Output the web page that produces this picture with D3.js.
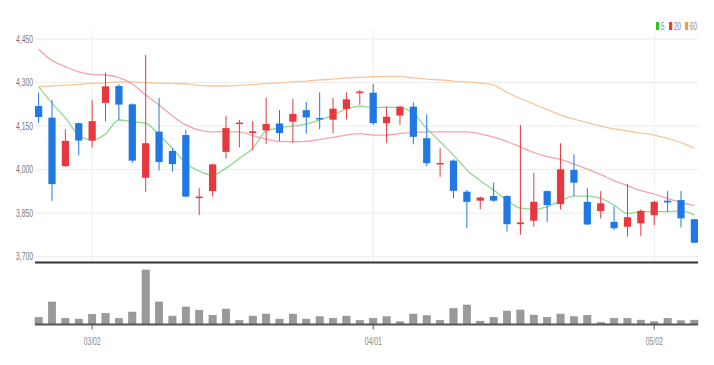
<!DOCTYPE html>
<html>
<head>
<meta charset="utf-8">
<script src="https://cdn.jsdelivr.net/npm/d3@7"></script>
<style>
  html, body { margin: 0; padding: 0; background: #fff; }
  svg { display: block; font-family: "Liberation Sans Narrow", "Liberation Sans", Arial, sans-serif; }
</style>
</head>
<body>
<svg id="chart" width="714" height="365"></svg>
<script>
// trading days (Feb 23 – May 6)
const dates = [
  "02/23","02/24","02/25","02/28",
  "03/02","03/03","03/04","03/07","03/08","03/10","03/11","03/14","03/15","03/16","03/17","03/18",
  "03/21","03/22","03/23","03/24","03/25","03/28","03/29","03/30","03/31",
  "04/01","04/04","04/05","04/06","04/07","04/08","04/11","04/12","04/13","04/14","04/15",
  "04/18","04/19","04/20","04/21","04/22","04/25","04/26","04/27","04/28","04/29",
  "05/02","05/03","05/04","05/06"
];
const tickDates = ["03/02", "04/01", "05/02"];
const priceTicks = [3700, 3850, 4000, 4150, 4300, 4450];

const opens  = [4219,4179,4012,4160,4100,4230,4288,4225,3972,4131,4064,4119,3904,3926,4061,4157,4126,4135,4159,4165,
                4205,4178,4172,4209,4265,4265,4160,4186,4217,4108,4020,4031,3924,3893,3909,3909,3812,3824,3926,3881,
                3999,3889,3857,3820,3803,3815,3843,3893,3895,3829];
const highs  = [4265,4240,4139,4162,4239,4334,4294,4228,4395,4247,4073,4138,3936,4020,4185,4171,4167,4248,4205,4244,
                4233,4266,4247,4266,4274,4295,4217,4219,4232,4190,4073,4035,3930,3907,3956,3912,4154,3989,3928,4091,
                4053,3936,3926,3874,3950,3863,3893,3926,3926,3829];
const lows   = [4161,3892,4009,4049,4076,4166,4171,4023,3924,3997,3993,3905,3843,3907,4038,4077,4067,4088,4099,4093,
                4124,4139,4125,4173,4223,4154,4093,4154,4087,4012,3975,3901,3798,3863,3889,3786,3775,3803,3820,3863,
                3909,3809,3832,3792,3769,3771,3809,3855,3801,3748];
const closes = [4181,3950,4099,4100,4167,4287,4224,4031,4091,4026,4019,3907,3907,4018,4143,4162,4132,4157,4126,4192,
                4180,4173,4210,4242,4269,4160,4182,4217,4113,4022,4023,3927,3889,3904,3893,3812,3818,3889,3878,4001,
                3955,3811,3884,3798,3836,3858,3889,3887,3832,3748];
const volumes = [140,446,120,106,200,220,120,246,1080,446,166,346,280,180,306,80,166,206,106,206,
                 106,154,120,166,80,120,154,54,206,174,80,314,386,66,140,266,286,186,140,206,
                 154,180,40,120,120,86,54,120,74,86];

const ma5  = [4286,4229,4178,4119,4102,4123,4171,4165,4160,4119,4073,4022,3995,3981,4005,4039,4073,4133,4144,4150,
              4157,4171,4188,4209,4219,4213,4215,4213,4194,4142,4096,4050,3999,3962,3930,3895,3867,3864,3872,3892,
              3909,3909,3901,3878,3849,3855,3855,3855,3858,3844];
const ma20 = [4415,4376,4355,4337,4328,4326,4317,4295,4257,4223,4185,4154,4136,4130,4131,4130,4117,4105,4097,4096,
              4097,4104,4111,4119,4124,4119,4119,4124,4128,4130,4130,4130,4130,4123,4112,4097,4078,4059,4045,4035,
              4019,4002,3983,3962,3945,3928,3916,3900,3887,3876];
const ma60 = [4286,4288,4291,4294,4297,4299,4302,4302,4300,4298,4297,4295,4290,4288,4288,4290,4293,4296,4299,4302,
              4305,4309,4312,4316,4318,4320,4321,4321,4316,4312,4309,4305,4302,4298,4291,4266,4245,4226,4207,4188,
              4174,4162,4150,4140,4133,4126,4119,4107,4093,4074];

const maSeries = [
  { name: "5",  values: ma5,  line: "#8fd88f", key: "#2fc42f" },
  { name: "20", values: ma20, line: "#f5a3ad", key: "#ef3a3a" },
  { name: "60", values: ma60, line: "#f7c69b", key: "#f29c3c" }
];

const UP = "#e8383d";
const DOWN = "#1f78e3";

const svg = d3.select("#chart");
const left = 35, right = 698;
const priceTop = 30, priceBottom = 262;
const volBase = 324.5, volTop = 270;

const x = d3.scaleBand().domain(dates).range([left, right]).paddingInner(0.46);
const cx = d => x(d) + x.bandwidth() / 2;
const y = d3.scaleLinear().domain([3700, 4450]).range([256.7, 39]);
const yv = d3.scaleLinear().domain([0, d3.max(volumes)]).range([volBase, volTop]);

/* grid */
const grid = svg.append("g");
grid.selectAll("line.h").data(priceTicks).join("line")
  .attr("x1", left).attr("x2", right)
  .attr("y1", d => y(d)).attr("y2", d => y(d))
  .attr("stroke", "#ececec").attr("stroke-width", 1);
grid.selectAll("line.v").data(tickDates).join("line")
  .attr("x1", d => cx(d)).attr("x2", d => cx(d))
  .attr("y1", priceTop).attr("y2", priceBottom)
  .attr("stroke", "#eeeeee").attr("stroke-width", 1);

/* y labels */
svg.append("g").selectAll("text").data(priceTicks).join("text")
  .attr("x", 33).attr("y", d => y(d))
  .attr("text-anchor", "end").attr("dominant-baseline", "central")
  .attr("font-size", 10).attr("fill", "#777")
  .attr("textLength", 17).attr("lengthAdjust", "spacingAndGlyphs")
  .text(d => d3.format(",")(d));

/* moving averages */
const line = d3.line().x((d, i) => cx(dates[i])).y(d => y(d)).curve(d3.curveMonotoneX);
svg.append("g").selectAll("path").data(maSeries.slice().reverse()).join("path")
  .attr("d", s => line(s.values))
  .attr("fill", "none").attr("stroke", s => s.line).attr("stroke-width", 1.3);

/* candles */
const candles = svg.append("g").selectAll("g").data(dates).join("g");
const col = (d, i) => closes[i] >= opens[i] ? UP : DOWN;
candles.append("line")
  .attr("x1", d => cx(d)).attr("x2", d => cx(d))
  .attr("y1", (d, i) => y(highs[i])).attr("y2", (d, i) => y(lows[i]))
  .attr("stroke", col).attr("stroke-width", 1);
candles.append("rect")
  .attr("x", d => x(d)).attr("width", x.bandwidth())
  .attr("y", (d, i) => y(Math.max(opens[i], closes[i])))
  .attr("height", (d, i) => Math.max(1.5, Math.abs(y(opens[i]) - y(closes[i]))))
  .attr("fill", col);

/* price axis base line */
svg.append("line").attr("x1", left).attr("x2", right).attr("y1", 262.5).attr("y2", 262.5)
  .attr("stroke", "#333").attr("stroke-width", 2);

/* volume */
svg.append("g").selectAll("rect").data(dates).join("rect")
  .attr("x", d => x(d)).attr("width", x.bandwidth())
  .attr("y", (d, i) => yv(volumes[i]))
  .attr("height", (d, i) => volBase - yv(volumes[i]))
  .attr("fill", "#9a9a9a").attr("stroke", "#8a8a8a").attr("stroke-width", 0.6);
svg.append("line").attr("x1", left).attr("x2", right).attr("y1", volBase).attr("y2", volBase)
  .attr("stroke", "#555").attr("stroke-width", 2);

/* x ticks */
const xt = svg.append("g").selectAll("g").data(tickDates).join("g")
  .attr("transform", d => `translate(${cx(d)},0)`);
xt.append("line").attr("y1", volBase).attr("y2", volBase + 5).attr("stroke", "#555");
xt.append("text").attr("y", 341).attr("text-anchor", "middle").attr("dominant-baseline", "central")
  .attr("font-size", 10).attr("fill", "#888")
  .attr("textLength", 17).attr("lengthAdjust", "spacingAndGlyphs")
  .text(d => d);

/* legend */
const legendX = [656, 669, 685];
const lg = svg.append("g").selectAll("g").data(maSeries).join("g")
  .attr("transform", (d, i) => `translate(${legendX[i]},22)`);
lg.append("rect").attr("width", 3.2).attr("height", 8).attr("fill", d => d.key);
lg.append("text").attr("x", 5).attr("y", 4).attr("dominant-baseline", "central")
  .attr("font-size", 10).attr("fill", "#888")
  .attr("textLength", d => d.name.length * 3.5).attr("lengthAdjust", "spacingAndGlyphs")
  .text(d => d.name);
</script>
</body>
</html>
